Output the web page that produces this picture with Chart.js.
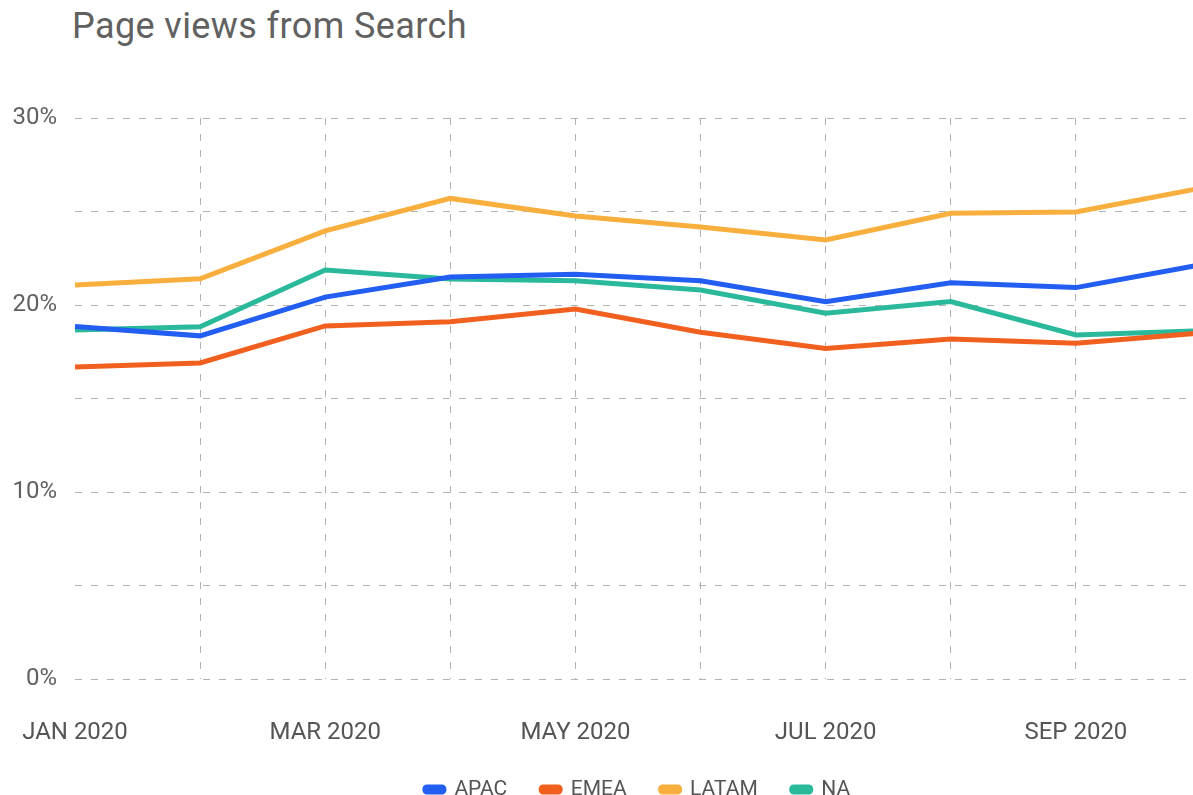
<!DOCTYPE html>
<html>
<head>
<meta charset="utf-8">
<script src="https://cdn.jsdelivr.net/npm/chart.js@4/dist/chart.umd.min.js"></script>
<style>
  body { margin: 0; overflow: hidden; background: #fff; width: 1193px; height: 795px; position: relative; }
  #title { position: absolute; left: 72px; top: 8px; font: 36px Roboto, sans-serif; letter-spacing: 0.4px; line-height: 36px; color: #616161; white-space: nowrap; }
  #wrap { position: absolute; left: 0; top: 0; }
</style>
</head>
<body>
<div id="title">Page views from Search</div>
<div id="wrap"><canvas id="lineChart" width="1272" height="795"></canvas></div>
<script>
// months on the x axis
var months = ['JAN 2020', 'FEB 2020', 'MAR 2020', 'APR 2020', 'MAY 2020',
              'JUN 2020', 'JUL 2020', 'AUG 2020', 'SEP 2020', 'OCT 2020'];

// share of page views from search, in %
var apac  = [18.85, 18.35, 20.42, 21.5, 21.64, 21.3, 20.18, 21.19, 20.93, 22.15];
var emea  = [16.68, 16.9, 18.88, 19.11, 19.79, 18.54, 17.68, 18.18, 17.95, 18.5];
var latam = [21.07, 21.4, 23.96, 25.7, 24.76, 24.17, 23.48, 24.9, 24.97, 26.25];
var na    = [18.66, 18.84, 21.87, 21.39, 21.3, 20.8, 19.56, 20.18, 18.4, 18.62];

var yTicks = [0, 10, 20, 30];

var ctx = document.getElementById('lineChart').getContext('2d');
var gridCol = '#b3b3b3';

function serie(name, values, col) {
  return {
    label: name,
    data: values,
    borderColor: col,
    backgroundColor: col,
    borderWidth: 5,
    pointRadius: 0,
    pointHoverRadius: 0,
    tension: 0,
    fill: false
  };
}

// legend: fixed height and centred under the plot area
var legendFix = {
  id: 'legendFix',
  beforeLayout: function (chart) {
    var lg = chart.legend;
    if (lg && !lg._patched) {
      var orig = lg.fit;
      lg.fit = function () { orig.call(this); this.height = 50; };
      lg._patched = true;
    }
  },
  afterLayout: function (chart) {
    var lg = chart.legend;
    lg.left += 31;
    lg.right += 31;
  }
};

var myLineChart = new Chart(ctx, {
  type: 'line',
  data: {
    labels: months,
    datasets: [
      serie('APAC', apac, '#235ef2'),
      serie('EMEA', emea, '#f1601f'),
      serie('LATAM', latam, '#f9af3d'),
      serie('NA', na, '#2bb99c')
    ]
  },
  plugins: [legendFix],
  options: {
    responsive: false,
    animation: false,
    layout: { padding: { left: 12, right: 71, top: 118, bottom: 0 } },
    plugins: {
      legend: {
        position: 'bottom',
        labels: {
          boxWidth: 19,
          boxHeight: 5,
          useBorderRadius: true,
          borderRadius: 2,
          padding: 34,
          color: '#555',
          font: { family: 'Roboto', size: 21 }
        }
      },
      tooltip: { enabled: false }
    },
    scales: {
      x: {
        offset: false,
        grid: {
          color: function (c) { return c.index === 0 ? 'rgba(0,0,0,0)' : gridCol; },
          drawTicks: false,
          lineWidth: 1
        },
        border: { display: false, dash: [7, 9] },
        ticks: {
          autoSkip: false,
          maxRotation: 0,
          padding: 40,
          color: '#555',
          font: { family: 'Roboto', size: 24 },
          callback: function (v, i) { return i % 2 === 0 ? months[i] : ''; }
        },
        afterFit: function (s) { s.height = 66; s.paddingLeft = 0; s.paddingRight = 0; }
      },
      y: {
        min: 0,
        max: 30,
        border: { display: false, dash: [7, 9] },
        grid: { color: gridCol, drawTicks: false, lineWidth: 1 },
        ticks: {
          stepSize: 5,
          padding: 18,
          color: '#616161',
          font: { family: 'Roboto', size: 24 },
          callback: function (v) { return yTicks.indexOf(v) >= 0 ? v + '%' : ''; }
        },
        afterFit: function (s) { s.width = 63; }
      }
    }
  }
});
</script>
</body>
</html>
